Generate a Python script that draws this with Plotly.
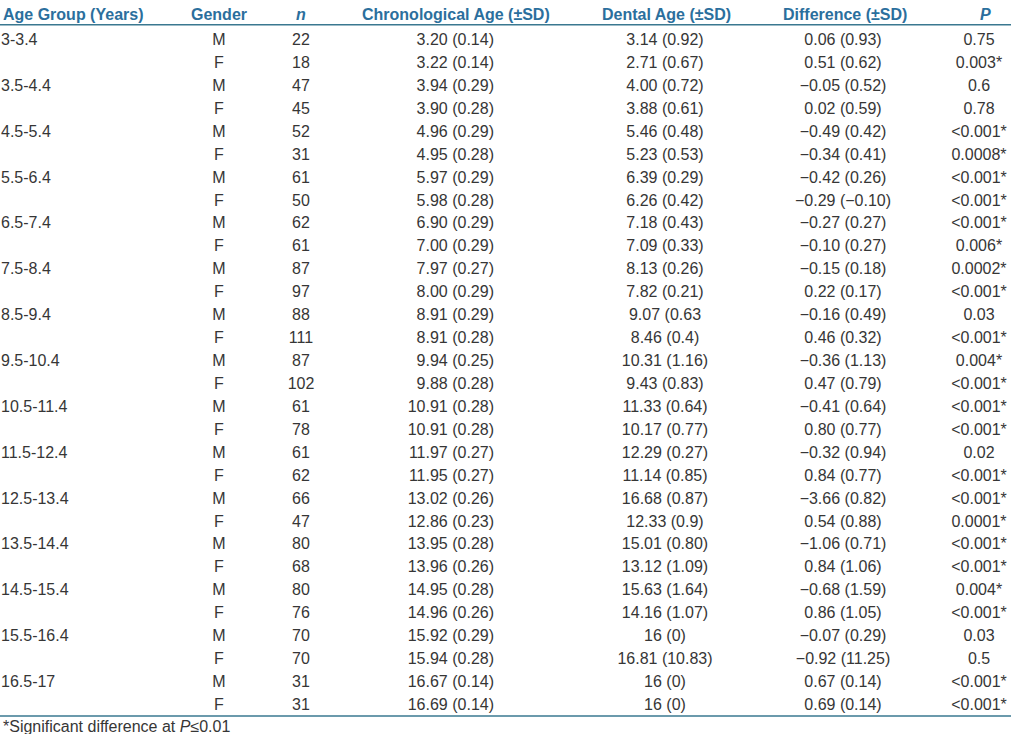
import plotly.graph_objects as go

# ---- data ----
age_groups = ["3-3.4", "3.5-4.4", "4.5-5.4", "5.5-6.4", "6.5-7.4", "7.5-8.4", "8.5-9.4",
              "9.5-10.4", "10.5-11.4", "11.5-12.4", "12.5-13.4", "13.5-14.4", "14.5-15.4",
              "15.5-16.4", "16.5-17"]
genders = ["M", "F"]
n_vals = [22, 18, 47, 45, 52, 31, 61, 50, 62, 61, 87, 97, 88, 111, 87, 102, 61, 78,
          61, 62, 66, 47, 80, 68, 80, 76, 70, 70, 31, 31]
chrono_age = ["3.20 (0.14)", "3.22 (0.14)", "3.94 (0.29)", "3.90 (0.28)", "4.96 (0.29)",
              "4.95 (0.28)", "5.97 (0.29)", "5.98 (0.28)", "6.90 (0.29)", "7.00 (0.29)",
              "7.97 (0.27)", "8.00 (0.29)", "8.91 (0.29)", "8.91 (0.28)", "9.94 (0.25)",
              "9.88 (0.28)", "10.91 (0.28)", "10.91 (0.28)", "11.97 (0.27)", "11.95 (0.27)",
              "13.02 (0.26)", "12.86 (0.23)", "13.95 (0.28)", "13.96 (0.26)", "14.95 (0.28)",
              "14.96 (0.26)", "15.92 (0.29)", "15.94 (0.28)", "16.67 (0.14)", "16.69 (0.14)"]
dental_age = ["3.14 (0.92)", "2.71 (0.67)", "4.00 (0.72)", "3.88 (0.61)", "5.46 (0.48)",
              "5.23 (0.53)", "6.39 (0.29)", "6.26 (0.42)", "7.18 (0.43)", "7.09 (0.33)",
              "8.13 (0.26)", "7.82 (0.21)", "9.07 (0.63", "8.46 (0.4)", "10.31 (1.16)",
              "9.43 (0.83)", "11.33 (0.64)", "10.17 (0.77)", "12.29 (0.27)", "11.14 (0.85)",
              "16.68 (0.87)", "12.33 (0.9)", "15.01 (0.80)", "13.12 (1.09)", "15.63 (1.64)",
              "14.16 (1.07)", "16 (0)", "16.81 (10.83)", "16 (0)", "16 (0)"]
difference = ["0.06 (0.93)", "0.51 (0.62)", "\u22120.05 (0.52)", "0.02 (0.59)", "\u22120.49 (0.42)",
              "\u22120.34 (0.41)", "\u22120.42 (0.26)", "\u22120.29 (\u22120.10)", "\u22120.27 (0.27)",
              "\u22120.10 (0.27)", "\u22120.15 (0.18)", "0.22 (0.17)", "\u22120.16 (0.49)", "0.46 (0.32)",
              "\u22120.36 (1.13)", "0.47 (0.79)", "\u22120.41 (0.64)", "0.80 (0.77)", "\u22120.32 (0.94)",
              "0.84 (0.77)", "\u22123.66 (0.82)", "0.54 (0.88)", "\u22121.06 (0.71)", "0.84 (1.06)",
              "\u22120.68 (1.59)", "0.86 (1.05)", "\u22120.07 (0.29)", "\u22120.92 (11.25)", "0.67 (0.14)",
              "0.69 (0.14)"]
p_vals = ["0.75", "0.003*", "0.6", "0.78", "<0.001*", "0.0008*", "<0.001*", "<0.001*",
          "<0.001*", "0.006*", "0.0002*", "<0.001*", "0.03", "<0.001*", "0.004*", "<0.001*",
          "<0.001*", "<0.001*", "0.02", "<0.001*", "<0.001*", "0.0001*", "<0.001*", "<0.001*",
          "0.004*", "<0.001*", "0.03", "0.5", "<0.001*", "<0.001*"]
headers = ["Age Group (Years)", "Gender", "<i>n</i>", "Chronological Age (\u00b1SD)",
           "Dental Age (\u00b1SD)", "Difference (\u00b1SD)", "<i>P</i>"]
footnote = "*Significant difference at <i>P</i>\u22640.01"

# ---- layout helpers ----
W, H = 1011, 734
HEAD_COLOR = "#2b6f9d"
LINE_COLOR = "#3a7890"
TEXT_COLOR = "#363636"
FONT = "Liberation Sans, Arial, Helvetica, sans-serif"
FS = 16

nrows = len(n_vals)
row_y = [41 + i * 22.93 for i in range(nrows)]
age_col = [age_groups[i // 2] if i % 2 == 0 else "" for i in range(nrows)]
gender_col = [genders[i % 2] for i in range(nrows)]

fig = go.Figure()

def col(x, texts, pos):
    fig.add_trace(go.Scatter(
        x=[x] * nrows, y=row_y, mode="text", text=texts, textposition=pos,
        textfont=dict(family=FONT, size=FS, color=TEXT_COLOR),
        hoverinfo="skip", showlegend=False, cliponaxis=False))

col(1, age_col, "middle right")
col(219, gender_col, "middle center")
col(301, [str(v) for v in n_vals], "middle center")
col(494, chrono_age, "middle left")
col(665, dental_age, "middle center")
col(843, difference, "middle center")
col(979, p_vals, "middle center")

head_x = [1, 219, 301, 456, 666, 845, 985]
head_anchor = ["left", "center", "center", "center", "center", "center", "center"]
for hx, ht, ha in zip(head_x, headers, head_anchor):
    fig.add_annotation(x=hx, y=14.5, xref="x", yref="y", text="<b>" + ht + "</b>",
                       showarrow=False, xanchor=ha, yanchor="middle",
                       font=dict(family=FONT, size=FS, color=HEAD_COLOR))

fig.add_annotation(x=1, y=726, xref="x", yref="y", text=footnote, showarrow=False,
                   xanchor="left", yanchor="middle",
                   font=dict(family=FONT, size=16, color=TEXT_COLOR))

for ly in (24.8, 716):
    fig.add_shape(type="line", xref="x", yref="y", x0=0, x1=W, y0=ly, y1=ly,
                  line=dict(color=LINE_COLOR, width=1.5))

fig.update_layout(
    width=W, height=H, margin=dict(l=0, r=0, t=0, b=0),
    paper_bgcolor="white", plot_bgcolor="white",
    xaxis=dict(range=[0, W], visible=False, fixedrange=True),
    yaxis=dict(range=[H, 0], visible=False, fixedrange=True),
)
fig.write_html("out.html", config={"displayModeBar": False},
               post_script="document.body.style.margin='0px';document.body.style.overflow='hidden';")
